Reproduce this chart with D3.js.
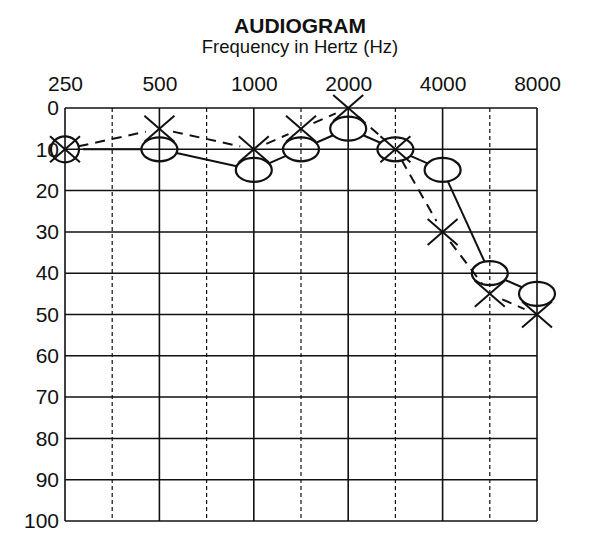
<!DOCTYPE html>
<html>
<head>
<meta charset="utf-8">
<script src="https://cdn.jsdelivr.net/npm/d3@7"></script>
<style>
  body { margin: 0; background: #fff; }
  text { font-family: "Liberation Sans", Arial, Helvetica, sans-serif; fill: #111; }
</style>
</head>
<body>
<div id="chart"></div>
<script>
// audiogram values (dB HL)
const freqs = [250, 500, 1000, 1500, 2000, 3000, 4000, 6000, 8000];
const rightEar = [10, 10, 15, 10, 5, 10, 15, 40, 45];   // circles, solid line
const leftEar = [10, 5, 10, 5, 0, 10, 30, 45, 50];      // crosses, dashed line

const gridFreqs = [250, 354, 500, 750, 1000, 1500, 2000, 3000, 4000, 6000, 8000];
const labelFreqs = [250, 500, 1000, 2000, 4000, 8000];
const levelTicks = [0, 10, 20, 30, 40, 50, 60, 70, 80, 90, 100];

const width = 600, height = 540;
const plotLeft = 65, plotRight = 537, plotTop = 108, plotBottom = 521;
const ink = "#111";

const svg = d3.select("#chart").append("svg")
  .attr("width", width)
  .attr("height", height);

const x = d3.scalePoint().domain(gridFreqs).range([plotLeft, plotRight]);
const y = d3.scaleLinear().domain([0, 100]).range([plotTop, plotBottom]);

// titles
svg.append("text")
  .attr("x", 300).attr("y", 33)
  .attr("text-anchor", "middle")
  .style("font-size", "21px")
  .style("font-weight", "bold")
  .text("AUDIOGRAM");

svg.append("text")
  .attr("x", 300).attr("y", 53)
  .attr("text-anchor", "middle")
  .style("font-size", "18.5px")
  .text("Frequency in Hertz (Hz)");

// grid
const grid = svg.append("g");

grid.selectAll(".hline")
  .data(levelTicks)
  .enter().append("line")
  .attr("x1", plotLeft).attr("x2", plotRight)
  .attr("y1", d => y(d)).attr("y2", d => y(d))
  .attr("stroke", ink)
  .attr("stroke-width", 1.5);

grid.selectAll(".vline")
  .data(gridFreqs)
  .enter().append("line")
  .attr("x1", d => x(d)).attr("x2", d => x(d))
  .attr("y1", plotTop).attr("y2", plotBottom)
  .attr("stroke", ink)
  .attr("stroke-width", d => labelFreqs.includes(d) ? 1.6 : 1.2)
  .attr("stroke-dasharray", d => labelFreqs.includes(d) ? null : "4,3");

// axes (labels only)
const xAxis = svg.append("g")
  .attr("transform", "translate(0," + plotTop + ")")
  .call(d3.axisTop(x).tickValues(labelFreqs).tickSize(0).tickPadding(17));
xAxis.select(".domain").remove();
xAxis.selectAll("text")
  .style("font-size", "21px")
  .style("font-family", "'Liberation Sans', Arial, sans-serif")
  .attr("fill", ink);

const yAxis = svg.append("g")
  .attr("transform", "translate(" + plotLeft + ",0)")
  .call(d3.axisLeft(y).tickValues(levelTicks).tickSize(0).tickPadding(6));
yAxis.select(".domain").remove();
yAxis.selectAll("text")
  .style("font-size", "21px")
  .style("font-family", "'Liberation Sans', Arial, sans-serif")
  .attr("fill", ink);

// helper: trim a segment so it stops at marker edges
function trimmed(points, rx, ry) {
  const segs = [];
  for (let i = 0; i < points.length - 1; i++) {
    const [x1, y1] = points[i], [x2, y2] = points[i + 1];
    const len = Math.hypot(x2 - x1, y2 - y1);
    const ux = (x2 - x1) / len, uy = (y2 - y1) / len;
    const r = 1 / Math.sqrt((ux / rx) ** 2 + (uy / ry) ** 2);
    segs.push([[x1 + ux * r, y1 + uy * r], [x2 - ux * r, y2 - uy * r]]);
  }
  return segs;
}

const rxO = 18, ryO = 12;
const rightPts = freqs.map((f, i) => [x(f), y(rightEar[i])]);
const leftPts = freqs.map((f, i) => [x(f), y(leftEar[i])]);

const lineGen = d3.line();

svg.append("g").selectAll("path")
  .data(trimmed(rightPts, rxO, ryO))
  .enter().append("path")
  .attr("d", lineGen)
  .attr("fill", "none")
  .attr("stroke", ink)
  .attr("stroke-width", 2);

svg.append("g").selectAll("path")
  .data(trimmed(leftPts, 14, 12))
  .enter().append("path")
  .attr("d", lineGen)
  .attr("fill", "none")
  .attr("stroke", ink)
  .attr("stroke-width", 2)
  .attr("stroke-dasharray", "10,7");

// circles (right ear)
svg.append("g").selectAll("ellipse")
  .data(rightPts)
  .enter().append("ellipse")
  .attr("cx", d => d[0]).attr("cy", d => d[1])
  .attr("rx", (d, i) => i === 0 ? 14 : rxO)
  .attr("ry", (d, i) => i === 0 ? 13 : ryO)
  .attr("fill", "none")
  .attr("stroke", ink)
  .attr("stroke-width", 2.2);

// crosses (left ear)
const hw = 15, hh = 13;
const crosses = svg.append("g").selectAll("g")
  .data(leftPts)
  .enter().append("g")
  .attr("transform", d => "translate(" + d[0] + "," + d[1] + ")");
crosses.append("line")
  .attr("x1", -hw).attr("y1", -hh).attr("x2", hw).attr("y2", hh)
  .attr("stroke", ink).attr("stroke-width", 2);
crosses.append("line")
  .attr("x1", -hw).attr("y1", hh).attr("x2", hw).attr("y2", -hh)
  .attr("stroke", ink).attr("stroke-width", 2);
</script>
</body>
</html>
